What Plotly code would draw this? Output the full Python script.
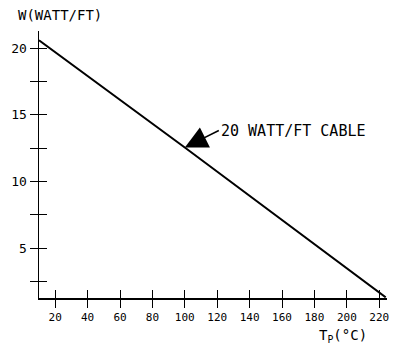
import numpy as np
import plotly.graph_objects as go

# Data
temp_c = [10, 100, 224]          # T_P (°C)
watt_ft = [20.6, 12.55, 1.3]     # W (WATT/FT)
x_ticks = [20, 40, 60, 80, 100, 120, 140, 160, 180, 200, 220]
y_ticks = [2.5, 5, 7.5, 10, 12.5, 15, 17.5, 20]
y_tick_text = ["", "5", "", "10", "", "15", "", "20"]
cable_label = "20 WATT/FT CABLE"
arrow_at_t = 100

FONT = "DejaVu Sans Mono"
XR = [10, 224.8]
YR = [1.25, 21.3]

fig = go.Figure()
fig.add_trace(go.Scatter(x=temp_c, y=watt_ft, mode="lines",
                         line=dict(color="black", width=2), hoverinfo="skip",
                         showlegend=False, cliponaxis=False))
# invisible trace to activate the overlay axes (crossing ticks)
fig.add_trace(go.Scatter(x=temp_c, y=watt_ft, mode="lines", xaxis="x2", yaxis="y2",
                         line=dict(color="rgba(0,0,0,0)", width=0), hoverinfo="skip",
                         showlegend=False))

axis_common = dict(showgrid=False, zeroline=False, ticklen=8, tickwidth=1,
                   tickcolor="black", automargin=False)

fig.update_layout(
    width=393, height=354,
    margin=dict(l=39, r=6, t=31, b=56),
    paper_bgcolor="white", plot_bgcolor="white",
    xaxis=dict(range=XR, tickvals=x_ticks, ticks="outside", showline=True,
               linecolor="black", linewidth=1.5, ticklabelstandoff=0,
               tickfont=dict(family=FONT, size=11, color="black"), **axis_common),
    yaxis=dict(range=YR, tickvals=y_ticks, ticktext=y_tick_text, ticks="outside",
               showline=True, linecolor="black", linewidth=1.5, ticklabelstandoff=0,
               tickfont=dict(family=FONT, size=13, color="black"), **axis_common),
    xaxis2=dict(range=XR, overlaying="x", side="bottom", tickvals=x_ticks, ticks="inside",
                showticklabels=False, showline=False, **axis_common),
    yaxis2=dict(range=YR, overlaying="y", side="left", tickvals=y_ticks, ticks="inside",
                showticklabels=False, showline=False, **axis_common),
    showlegend=False,
)

fig.add_annotation(x=arrow_at_t, y=float(np.interp(arrow_at_t, temp_c, watt_ft)),
                   xref="x", yref="y", text=cable_label, showarrow=True,
                   arrowhead=2, arrowsize=3.0, arrowwidth=1.5, arrowcolor="black",
                   ax=34, ay=-17, xanchor="left", yanchor="middle",
                   font=dict(family=FONT, size=15, color="black"))

fig.add_annotation(x=-0.065, y=1.06, xref="paper", yref="paper", xanchor="left",
                   yanchor="middle", text="W(WATT/FT)", showarrow=False,
                   font=dict(family=FONT, size=14, color="black"))
fig.add_annotation(x=0.80, y=-0.143, xref="paper", yref="paper", xanchor="left",
                   yanchor="middle", text="T<sub>P</sub>(°C)", showarrow=False,
                   font=dict(family=FONT, size=14, color="black"))

fig.write_html("out.html", config={"displayModeBar": False, "staticPlot": True},
               post_script="document.body.style.margin='0';document.body.style.overflow='hidden';")
